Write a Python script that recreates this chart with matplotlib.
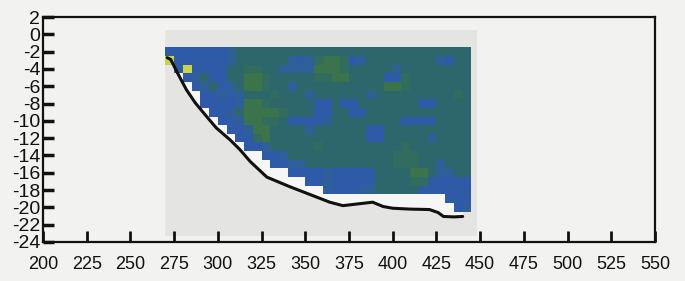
import numpy as np
import matplotlib.pyplot as plt
from matplotlib.colors import ListedColormap
from matplotlib.patches import Rectangle

plt.rcParams['axes.unicode_minus'] = False
plt.rcParams['font.family'] = ['Liberation Sans', 'DejaVu Sans']

# cell grid: 5 m columns from 270 to 445, 1 m rows from -1.5 down
x_edges = np.arange(270, 446, 5)
y_edges = np.arange(-1.5, -21.0, -1)

# B blue, b blue-teal, T teal, g teal-green, G green, Y yellow, . no data
cells = [
    "BBBBBBBbTTTTTTTTTTTTTTTTTTTTTTTTTTT",
    "YBBBBBBbTTTTTTbBbgGGgBbTTTTTTTTbBTT",
    ".BYBBBBTTggTTbbbbGGGgTTTTTbTTTTTTTT",
    "..BbTBBTTGGgTTTTTggGGTTTTBBgTTTTTTT",
    "...BbTBbTGGgTTbTTTTTTTTTTGGgTTTTTTT",
    "....BBbBbTTTgTTTbTTTTTTbTTTTTTTTTgT",
    "....BBBBbGGgTTTTTBBTBBTTTTTTTBBTTTT",
    ".....BBbTGGGGgTTTBBTTBBTTTTTTTTTTTT",
    "......BBbGGggTBBBBbTTTTTTTTBBBBTTTT",
    ".......BBbGGTTTTbTTTTTTBBTTTTTTTTTT",
    "........BBgGTTTTTTTTTTTBBTTTTTbTTTT",
    ".........BBbTTTTTgTTTTTTTTTgTTTTTTT",
    "...........BBbTTTTTTTTTTTTgggTTTTTT",
    "............BBbbTTTTTTTTTTgggTTbTTT",
    "..............BBBBbBBBBBTTTTGGTbbTT",
    "................BBbBBBBBTTTTggBBBBB",
    "..................bBBBbbTTTTTBBBBBB",
    "................................BBB",
    ".................................Bb",
]
codes = {'B': 0, 'b': 1, 'T': 2, 'g': 3, 'G': 4, 'Y': 5}
cell_colors = ['#2f5aa8', '#2e5f98', '#2d676c', '#326c5e', '#3b744a', '#c8d44a']

# bottom profile (black line)
bottom_x = [271, 273, 277, 282, 287, 291.5, 299, 307, 312.5, 318.5, 328, 341, 352.5,
            364, 371.5, 380, 388.5, 394.5, 400, 410, 421, 426, 429, 435, 440]
bottom_y = [-2.7, -2.9, -4.5, -6.4, -7.9, -9.0, -10.8, -12.2, -13.3, -14.7, -16.5, -17.6,
            -18.5, -19.4, -19.8, -19.6, -19.4, -19.9, -20.1, -20.2, -20.25, -20.6,
            -21.05, -21.1, -21.05]

x_ticks = list(range(200, 551, 25))
y_ticks = list(range(2, -25, -2))

Z = np.array([[codes.get(ch, -1) for ch in row] for row in cells], dtype=float)
Z = np.ma.masked_less(Z, 0)

fig = plt.figure(figsize=(6.85, 2.81), dpi=100)
fig.patch.set_facecolor('#f2f2f0')
ax = fig.add_axes([0.0628, 0.1388, 0.8934, 0.8007])
ax.set_facecolor('#f2f2f0')

ax.add_patch(Rectangle((270, -23.3), 178, 23.8, facecolor='#e4e4e2', edgecolor='none', zorder=0))
ax.fill_between(bottom_x, bottom_y, -1.5, color='#f6f6f4', lw=0, zorder=1)

ax.pcolormesh(x_edges, y_edges, Z, cmap=ListedColormap(cell_colors), vmin=-0.5, vmax=5.5,
              shading='flat', antialiased=False, zorder=2)
ax.plot(bottom_x, bottom_y, color='#111111', lw=2.2, solid_capstyle='round', zorder=3)

ax.set_xlim(200, 550)
ax.set_ylim(-24, 2)
ax.set_xticks(x_ticks)
ax.set_xticklabels([str(v) for v in x_ticks])
ax.set_yticks(y_ticks)
ax.set_yticklabels([str(v) for v in y_ticks])
ax.tick_params(axis='x', direction='in', length=8, width=2, pad=10, labelsize=13, colors='#111111')
ax.tick_params(axis='y', direction='in', length=8, width=2.5, pad=2, labelsize=14, colors='#111111')
for s in ax.spines.values():
    s.set_linewidth(1.6)
    s.set_color('#111111')

fig.savefig('out.png', dpi=100, facecolor=fig.get_facecolor())
